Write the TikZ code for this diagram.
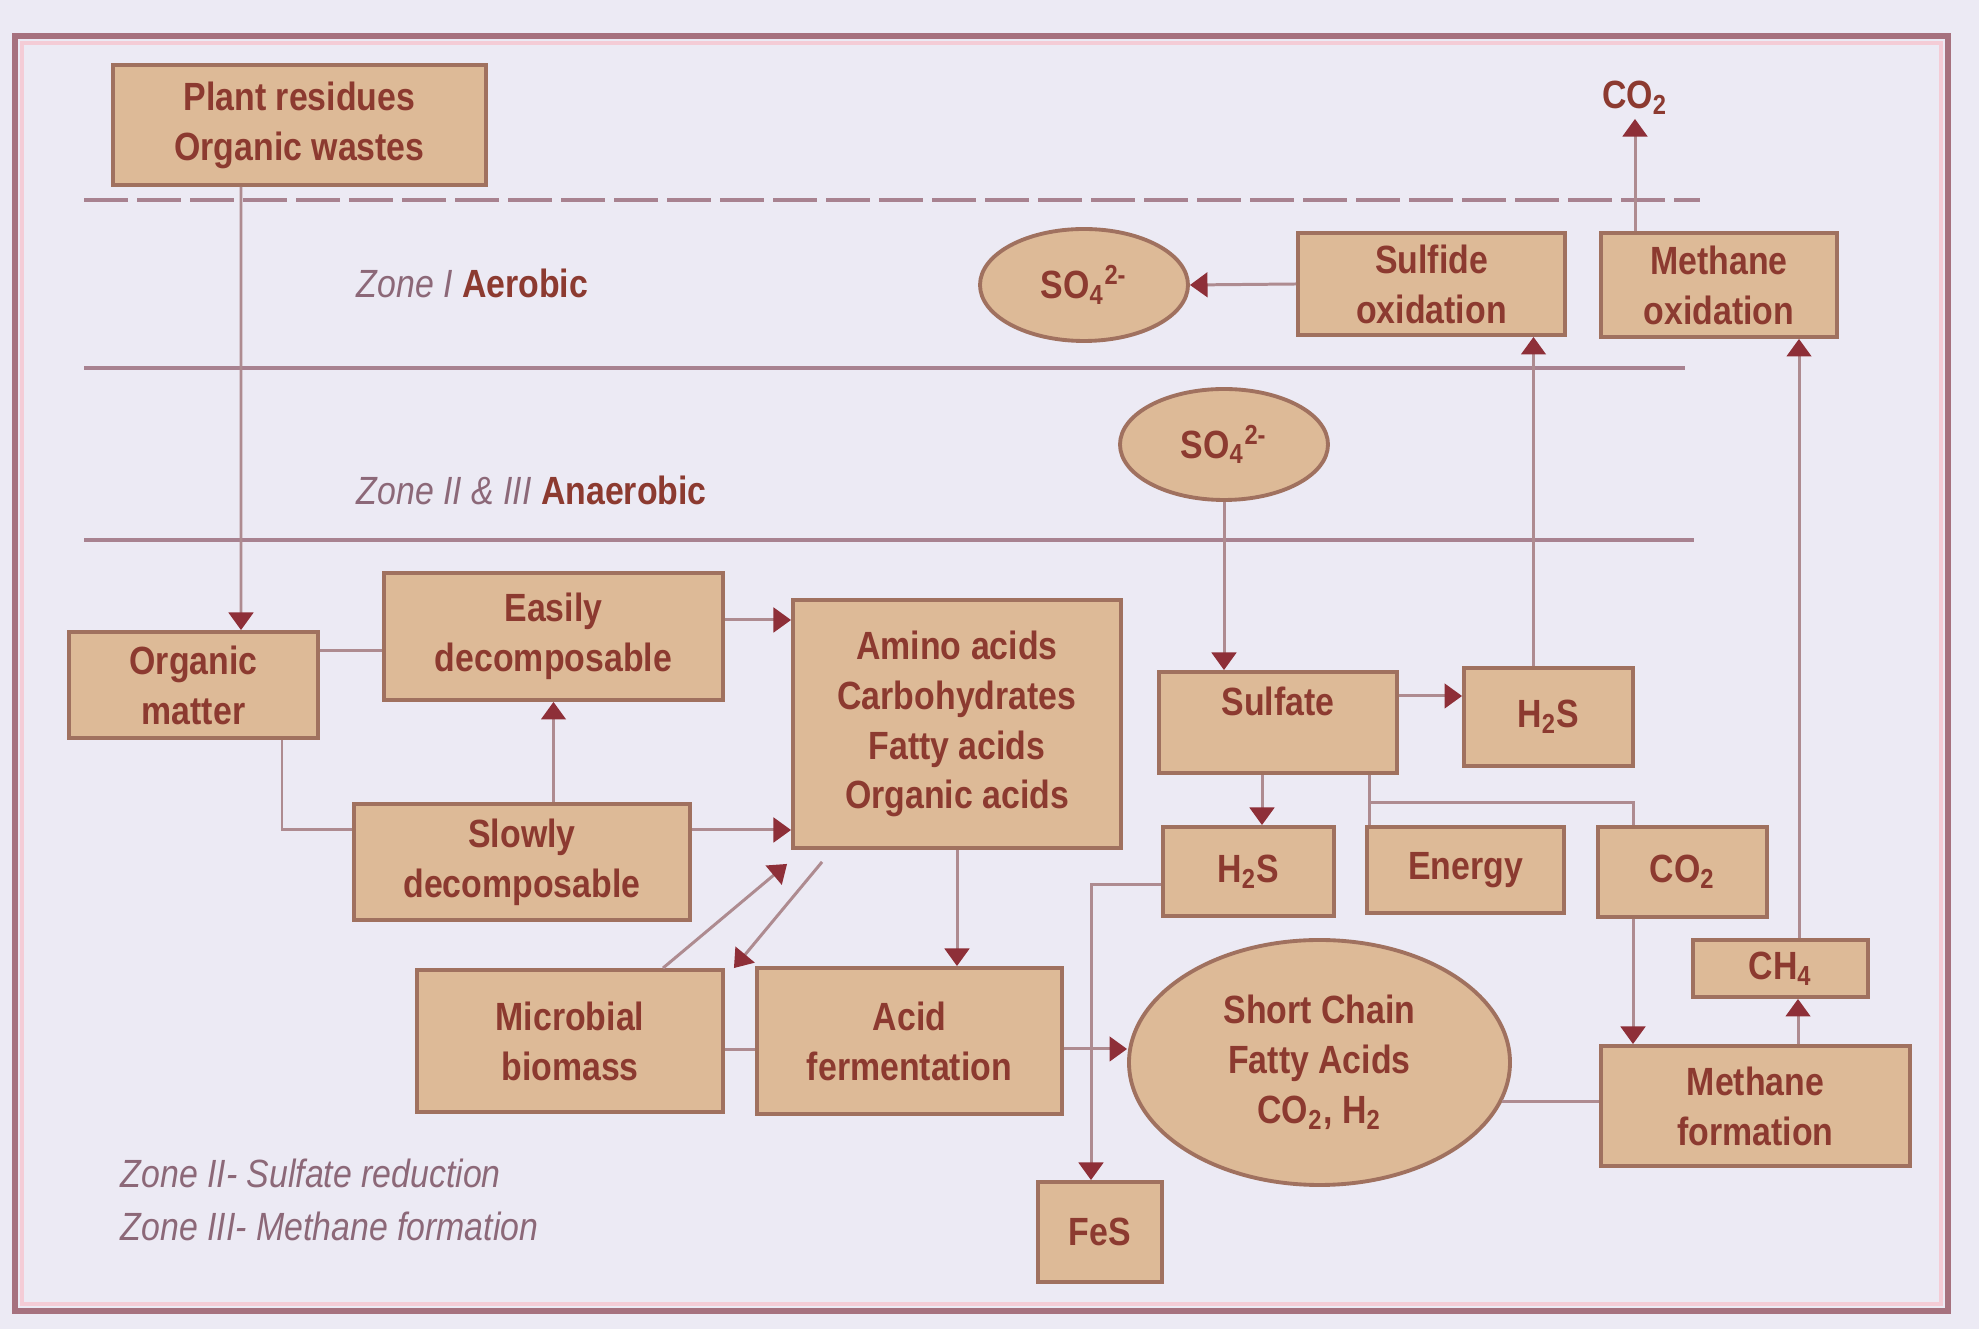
\documentclass[tikz,border=0pt]{standalone}
\usepackage{fontspec}
\setmainfont{Liberation Sans}[FakeStretch=0.86]
\usepackage{tikz}
\usetikzlibrary{arrows.meta,shapes.geometric}

\definecolor{pagebg}{HTML}{ECEAF4}
\definecolor{framecol}{HTML}{A6717E}
\definecolor{framepink}{HTML}{F4CCD6}
\definecolor{boxfill}{HTML}{DDBA97}
\definecolor{boxline}{HTML}{A0715F}
\definecolor{textred}{HTML}{8C3A30}
\definecolor{conncol}{HTML}{AE8B90}
\definecolor{tipred}{HTML}{8E2F38}
\definecolor{zonecol}{HTML}{A88290}
\definecolor{zonegray}{HTML}{8C6878}

\newcommand{\boxfont}{\fontsize{11.2}{14.2}\selectfont}

\tikzset{
  box/.style={draw=boxline, fill=boxfill, line width=1.1pt, rectangle, inner sep=0pt,
    align=center, text=textred, font=\boxfont\bfseries},
  oval/.style={box, ellipse},
  zoneline/.style={draw=zonecol, line width=1.2pt},
  zonetext/.style={anchor=west, inner sep=0pt, text=textred, font=\boxfont},
  conn/.style={draw=conncol, line width=0.85pt},
  >={Triangle[width=7pt,length=5pt,color=tipred]},
}

\begin{document}
\begin{tikzpicture}
\useasboundingbox (0,0) rectangle (19.79,-13.29);
\fill[pagebg] (0,0) rectangle (19.79,-13.29);
\draw[framecol, line width=1.9pt] (0.15,-0.36) rectangle (19.48,-13.11);
\draw[framepink, line width=0.9pt] (0.22,-0.43) rectangle (19.41,-13.04);

\draw[zoneline, line width=1.4pt, dash pattern=on 4.4mm off 0.9mm] (0.84,-2.00) -- (17.00,-2.00);
\draw[zoneline] (0.84,-3.68) -- (16.85,-3.68);
\draw[zoneline] (0.84,-5.40) -- (16.94,-5.40);

\node[zonetext] (zone1) at (3.56,-2.83) {{\itshape\color{zonegray}Zone I} \bfseries Aerobic};
\node[zonetext] (zone23) at (3.56,-4.90) {{\itshape\color{zonegray}Zone II \& III} \bfseries Anaerobic};
\node[zonetext, text=zonegray, font=\boxfont\itshape] (note2) at (1.20,-11.73) {Zone II- Sulfate reduction};
\node[zonetext, text=zonegray, font=\boxfont\itshape] (note3) at (1.20,-12.26) {Zone III- Methane formation};

\node[box, minimum width=3.73cm, minimum height=1.20cm] (plant) at (2.995,-1.25) {Plant residues\\Organic wastes};
\node[box, minimum width=2.49cm, minimum height=1.06cm] (orgm) at (1.935,-6.85) {Organic\\matter};
\node[box, minimum width=3.39cm, minimum height=1.27cm] (easy) at (5.535,-6.365) {Easily\\decomposable};
\node[box, minimum width=3.36cm, minimum height=1.16cm] (slow) at (5.22,-8.62) {Slowly\\decomposable};
\node[box, minimum width=3.28cm, minimum height=2.48cm] (amino) at (9.57,-7.24) {Amino acids\\Carbohydrates\\Fatty acids\\Organic acids};
\node[box, minimum width=3.06cm, minimum height=1.42cm] (micro) at (5.70,-10.41) {Microbial\\biomass};
\node[box, minimum width=3.05cm, minimum height=1.46cm] (acid) at (9.095,-10.41) {Acid\\fermentation};
\node[box, minimum width=2.38cm, minimum height=1.01cm, text depth=4.2mm] (sulfate) at (12.78,-7.225) {Sulfate};
\node[box, minimum width=1.69cm, minimum height=0.98cm] (hsa) at (15.485,-7.17) {H\textsubscript{2}S};
\node[box, minimum width=1.71cm, minimum height=0.89cm] (hsb) at (12.485,-8.715) {H\textsubscript{2}S};
\node[box, minimum width=1.97cm, minimum height=0.86cm] (energy) at (14.655,-8.70) {Energy};
\node[box, minimum width=1.69cm, minimum height=0.90cm] (cob) at (16.825,-8.72) {CO\textsubscript{2}};
\node[box, minimum width=1.75cm, minimum height=0.57cm] (ch4) at (17.805,-9.685) {CH\textsubscript{4}};
\node[box, minimum width=3.09cm, minimum height=1.20cm] (mform) at (17.555,-11.06) {Methane\\formation};
\node[oval, minimum width=3.81cm, minimum height=2.45cm] (scfa) at (13.195,-10.625) {Short Chain\\Fatty Acids\\CO\textsubscript{2}, H\textsubscript{2}};
\node[box, minimum width=1.24cm, minimum height=1.00cm] (fes) at (11.00,-12.32) {FeS};
\node[oval, minimum width=2.08cm, minimum height=1.12cm] (soa) at (10.84,-2.85) {SO\textsubscript{4}\textsuperscript{2-}};
\node[oval, minimum width=2.08cm, minimum height=1.11cm] (sob) at (12.24,-4.445) {SO\textsubscript{4}\textsuperscript{2-}};
\node[box, minimum width=2.67cm, minimum height=1.02cm] (sox) at (14.315,-2.84) {Sulfide\\oxidation};
\node[box, minimum width=2.36cm, minimum height=1.04cm] (mox) at (17.19,-2.85) {Methane\\oxidation};
\node[text=textred, font=\boxfont\bfseries, inner sep=1pt] (co2top) at (16.35,-0.98) {CO\textsubscript{2}};

\draw[conn, ->] ([xshift=-5.85mm]plant.south) -- ([xshift=4.75mm]orgm.north);
\draw[conn] ([yshift=3.4mm]orgm.east) -- ([yshift=3.4mm]orgm.east -| easy.west);
\draw[conn] ([xshift=8.85mm]orgm.south) |- ([yshift=3.2mm]slow.west);
\draw[conn, ->] (easy.south |- slow.north) -- (easy.south);
\draw[conn, ->] ([yshift=1.65mm]easy.east) -- ([yshift=1.65mm]easy.east -| amino.west);
\draw[conn, ->] ([yshift=3.2mm]slow.east) -- ([yshift=3.2mm]slow.east -| amino.west);
\draw[conn, ->] ([xshift=9.3mm]micro.north) -- ([xshift=-0.4mm,yshift=-1.4mm]amino.south west);
\draw[conn, ->] ([xshift=3.1mm,yshift=-1.2mm]amino.south west) -- ([xshift=0.9mm]micro.north east);
\draw[conn, ->] (amino.south) -- (amino.south |- acid.north);
\draw[conn] ([yshift=-0.9mm]micro.east) -- ([yshift=-0.9mm]micro.east -| acid.west);
\draw[conn, ->] ([yshift=-0.8mm]acid.east) -- ([yshift=-0.8mm]acid.east -| scfa.west);
\draw[conn, ->] (sob.south) -- (sob.south |- sulfate.north);
\draw[conn, ->] ([yshift=2.65mm]sulfate.east) -- ([yshift=2.65mm]sulfate.east -| hsa.west);
\draw[conn, ->] ([xshift=-1.5mm]hsa.north) -- ([xshift=-1.5mm]hsa.north |- sox.south);
\draw[conn, ->] (sox.west) -- (soa.east);
\draw[conn, ->] ([xshift=-1.6mm]sulfate.south) -- ([xshift=-1.6mm]sulfate.south |- hsb.north);
\draw[conn] ([xshift=9.1mm]sulfate.south) -- ([xshift=9.1mm]sulfate.south |- energy.north);
\draw[conn] ([xshift=9.1mm,yshift=-2.8mm]sulfate.south) -| ([xshift=-4.95mm]cob.north);
\draw[conn, ->] ([yshift=-1.35mm]hsb.west) -| ([xshift=-0.9mm]fes.north);
\draw[conn, ->] ([xshift=-4.95mm]cob.south) -- ([xshift=-4.95mm]cob.south |- mform.north);
\draw[conn] (scfa.348) -- (scfa.348 -| mform.west);
\draw[conn, ->] ([xshift=4.25mm]mform.north) -- ([xshift=4.25mm]mform.north |- ch4.south);
\draw[conn, ->] ([xshift=8mm]mox.south |- ch4.north) -- ([xshift=8mm]mox.south);
\draw[conn, ->] (co2top |- mox.north) -- (co2top.south);
\end{tikzpicture}
\end{document}
